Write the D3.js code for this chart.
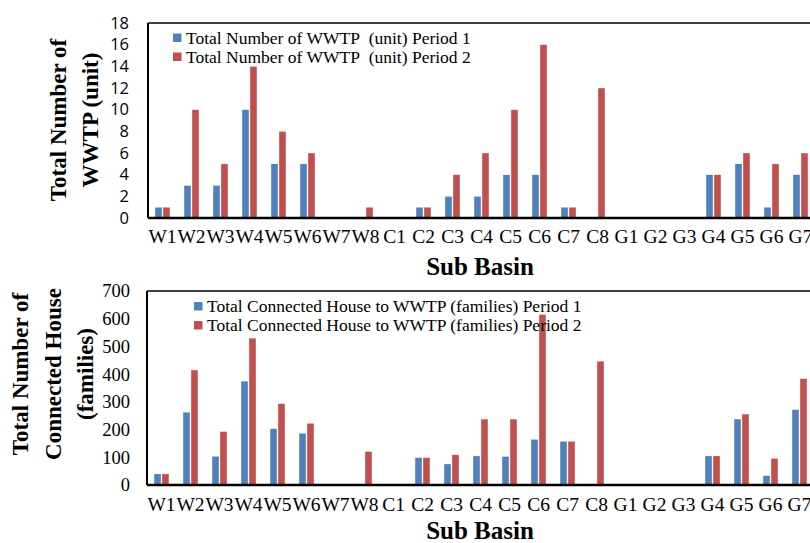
<!DOCTYPE html>
<html><head><meta charset="utf-8">
<script src="https://cdn.jsdelivr.net/npm/d3@7"></script>
<style>body{margin:0;background:#fff}svg{display:block}</style>
</head><body>
<svg id="c" width="810" height="543"></svg>
<script>
const categories = ["W1","W2","W3","W4","W5","W6","W7","W8","C1","C2","C3","C4","C5","C6","C7","C8","G1","G2","G3","G4","G5","G6","G7"];
const wwtpP1 = [1,3,3,10,5,5,0,0,0,1,2,2,4,4,1,0,0,0,0,4,5,1,4];
const wwtpP2 = [1,10,5,14,8,6,0,1,0,1,4,6,10,16,1,12,0,0,0,4,6,5,6];
const houseP1 = [40,263,104,375,203,187,0,0,0,99,76,105,103,165,158,0,0,0,0,105,238,34,272];
const houseP2 = [40,415,193,530,294,223,0,121,0,99,109,238,238,615,158,447,0,0,0,105,256,96,384];
const wwtpTicks = [0,2,4,6,8,10,12,14,16,18];
const houseTicks = [0,100,200,300,400,500,600,700];
const wwtpLegend = ["Total Number of WWTP\u00a0 (unit) Period 1","Total Number of WWTP\u00a0 (unit) Period 2"];
const houseLegend = ["Total Connected House to WWTP (families) Period 1","Total Connected House to WWTP (families) Period 2"];
const colors = ["#4F81BD","#C0504D"];

const svg = d3.select("#c");
const serif = "'Liberation Serif','Times New Roman',serif";
const sans = "'Open Sans','DejaVu Sans',sans-serif";

function panel(o){
  const g = svg.append("g");
  const x = d3.scaleBand().domain(categories).range([o.left, o.left + 23*29]).paddingInner(0).paddingOuter(0);
  const y = d3.scaleLinear().domain([0, o.max]).range([o.bottom, o.top]);
  const inner = d3.scaleBand().domain([0,1]).range([x.bandwidth()/2 - 7.5, x.bandwidth()/2 + 7.5]).paddingInner(0.12);
  [o.s1, o.s2].forEach((s, si) => {
    g.append("g").selectAll("rect").data(s).join("rect")
      .attr("x", (d,i) => x(categories[i]) + inner(si))
      .attr("width", inner.bandwidth())
      .attr("y", d => y(d))
      .attr("height", d => o.bottom - y(d))
      .attr("fill", colors[si])
      .attr("stroke", "#fff").attr("stroke-width", 0.4)
      .attr("display", d => d > 0 ? null : "none");
  });
  g.append("line").attr("x1", o.left).attr("x2", o.left).attr("y1", o.top).attr("y2", o.bottom).attr("stroke","#000").attr("stroke-width",2);
  g.append("line").attr("x1", o.left).attr("x2", 820).attr("y1", o.top).attr("y2", o.top).attr("stroke","#000").attr("stroke-width",1.6);
  const xa = g.append("g").attr("transform", `translate(0,${o.bottom})`)
    .call(d3.axisBottom(x).tickSize(0).tickPadding(o.xpad));
  xa.select(".domain").attr("stroke","#000").attr("stroke-width",2.4).attr("d", `M${o.left},0H820`);
  xa.selectAll("text").attr("font-family", serif).attr("font-size", 19.5).attr("fill","#000");
  const ya = g.append("g").attr("transform", `translate(${o.left},0)`)
    .call(d3.axisLeft(y).tickValues(o.ticks).tickSize(0).tickPadding(o.ypad));
  ya.select(".domain").remove();
  ya.selectAll("text").attr("font-family", o.yfont).attr("font-size", o.yfs).attr("fill","#000");
  o.legend.forEach((t, i) => {
    const ly = o.legY + i*19;
    g.append("rect").attr("x", o.legX).attr("y", ly - 4).attr("width", 8.5).attr("height", 8.5).attr("fill", colors[i]);
    g.append("text").attr("x", o.legX + 13).attr("y", ly).attr("dy","0.35em")
      .attr("font-family", serif).attr("font-size", 17.5).attr("fill","#000").text(t);
  });
  g.append("text").attr("x", 480).attr("y", o.xtitleY).attr("text-anchor","middle")
    .attr("font-family", serif).attr("font-weight","bold").attr("font-size", 25).attr("fill","#000").text("Sub Basin");
  o.ytitle.forEach((t, i) => {
    g.append("text").attr("transform", `translate(${o.ytX[i]},${o.ytY}) rotate(-90)`)
      .attr("text-anchor","middle").attr("dy","0.35em")
      .attr("font-family", serif).attr("font-weight","bold").attr("font-size", 23).attr("fill","#000").text(t);
  });
}

panel({left:148, top:23, bottom:218, max:18, s1:wwtpP1, s2:wwtpP2, ticks:wwtpTicks,
  yfont: sans, yfs: 16.5, ypad: 19, xpad: 11, legend: wwtpLegend, legX: 173, legY: 37.5,
  xtitleY: 275, ytitle:["Total Number of","WWTP (unit)"], ytX:[58,90], ytY:120});
panel({left:147, top:291, bottom:485, max:700, s1:houseP1, s2:houseP2, ticks:houseTicks,
  yfont: serif, yfs: 18.5, ypad: 17, xpad: 12, legend: houseLegend, legX: 194, legY: 306,
  xtitleY: 539, ytitle:["Total Number of","Connected House","(families)"], ytX:[20,53,85], ytY:374});
</script>
</body></html>
